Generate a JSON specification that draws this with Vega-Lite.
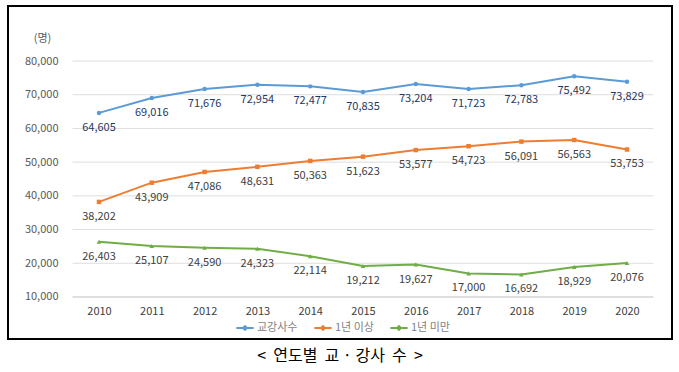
{
  "$schema": "https://vega.github.io/schema/vega-lite/v6.json",
  "width": 664,
  "height": 333,
  "autosize": {"type": "none"},
  "padding": {"left": 8, "top": 6, "right": 7, "bottom": 33},
  "background": "white",
  "config": {
    "font": "Noto Sans CJK KR",
    "view": {"stroke": "#000000", "strokeWidth": 2}
  },
  "title": {
    "text": "<\u00a0\u00a0연도별\u00a0\u00a0교\u00a0·\u00a0강사\u00a0\u00a0수\u00a0\u00a0>",
    "orient": "bottom",
    "anchor": "middle",
    "offset": 9,
    "fontSize": 16,
    "fontWeight": "normal",
    "color": "#000000"
  },
  "datasets": {
    "grid": [
      {"tick": 10000}, {"tick": 20000}, {"tick": 30000}, {"tick": 40000},
      {"tick": 50000}, {"tick": 60000}, {"tick": 70000}, {"tick": 80000}
    ]
  },
  "data": {
    "values": [
      {"year": 2010, "series": "교강사수", "value": 64605},
      {"year": 2011, "series": "교강사수", "value": 69016},
      {"year": 2012, "series": "교강사수", "value": 71676},
      {"year": 2013, "series": "교강사수", "value": 72954},
      {"year": 2014, "series": "교강사수", "value": 72477},
      {"year": 2015, "series": "교강사수", "value": 70835},
      {"year": 2016, "series": "교강사수", "value": 73204},
      {"year": 2017, "series": "교강사수", "value": 71723},
      {"year": 2018, "series": "교강사수", "value": 72783},
      {"year": 2019, "series": "교강사수", "value": 75492},
      {"year": 2020, "series": "교강사수", "value": 73829},
      {"year": 2010, "series": "1년 이상", "value": 38202},
      {"year": 2011, "series": "1년 이상", "value": 43909},
      {"year": 2012, "series": "1년 이상", "value": 47086},
      {"year": 2013, "series": "1년 이상", "value": 48631},
      {"year": 2014, "series": "1년 이상", "value": 50363},
      {"year": 2015, "series": "1년 이상", "value": 51623},
      {"year": 2016, "series": "1년 이상", "value": 53577},
      {"year": 2017, "series": "1년 이상", "value": 54723},
      {"year": 2018, "series": "1년 이상", "value": 56091},
      {"year": 2019, "series": "1년 이상", "value": 56563},
      {"year": 2020, "series": "1년 이상", "value": 53753},
      {"year": 2010, "series": "1년 미만", "value": 26403},
      {"year": 2011, "series": "1년 미만", "value": 25107},
      {"year": 2012, "series": "1년 미만", "value": 24590},
      {"year": 2013, "series": "1년 미만", "value": 24323},
      {"year": 2014, "series": "1년 미만", "value": 22114},
      {"year": 2015, "series": "1년 미만", "value": 19212},
      {"year": 2016, "series": "1년 미만", "value": 19627},
      {"year": 2017, "series": "1년 미만", "value": 17000},
      {"year": 2018, "series": "1년 미만", "value": 16692},
      {"year": 2019, "series": "1년 미만", "value": 18929},
      {"year": 2020, "series": "1년 미만", "value": 20076}
    ]
  },
  "layer": [
    {
      "data": {"name": "grid"},
      "mark": {"type": "rule", "strokeWidth": 1},
      "encoding": {
        "x": {
          "datum": 2009.5,
          "type": "quantitative",
          "scale": {"domain": [2008.277, 2020.852], "nice": false, "zero": false},
          "axis": {
            "title": null,
            "values": [2010, 2011, 2012, 2013, 2014, 2015, 2016, 2017, 2018, 2019, 2020],
            "labelExpr": "format(datum.value, 'd')",
            "grid": false,
            "ticks": false,
            "domain": false,
            "offset": -42,
            "labelPadding": 8,
            "labelFontSize": 11,
            "labelColor": "#404040"
          }
        },
        "x2": {"datum": 2020.5},
        "y": {
          "field": "tick",
          "type": "quantitative",
          "scale": {"domain": [-2458, 96314], "nice": false, "zero": false},
          "axis": {
            "title": "(명)",
            "titleAngle": 0,
            "titleX": -30,
            "titleY": 32,
            "titleAlign": "center",
            "titleBaseline": "middle",
            "titleFontSize": 11,
            "titleFontWeight": "normal",
            "titleColor": "#595959",
            "values": [10000, 20000, 30000, 40000, 50000, 60000, 70000, 80000],
            "labelExpr": "format(datum.value, ',')",
            "grid": false,
            "domain": false,
            "ticks": false,
            "offset": -64,
            "labelPadding": 14,
            "labelFontSize": 11,
            "labelColor": "#595959"
          }
        },
        "color": {
          "condition": {"test": "datum.tick === 10000", "value": "#bfbfbf"},
          "value": "#dedede"
        }
      }
    },
    {
      "encoding": {
        "x": {"field": "year", "type": "quantitative"},
        "y": {"field": "value", "type": "quantitative", "title": "(명)"}
      },
      "layer": [
        {
          "mark": {"type": "line", "strokeWidth": 2},
          "encoding": {
            "color": {
              "field": "series",
              "type": "nominal",
              "scale": {"domain": ["교강사수", "1년 이상", "1년 미만"], "range": ["#5b9bd5", "#ed7d31", "#70ad47"]},
              "legend": {
                "title": null,
                "orient": "none",
                "direction": "horizontal",
                "legendX": 227,
                "legendY": 312,
                "symbolType": "M-1,0H1M-0.22,0L0,-0.22L0.22,0L0,0.22Z",
                "symbolStrokeWidth": 2,
                "symbolSize": 300,
                "labelFontSize": 11,
                "labelColor": "#7f7f7f",
                "labelOffset": 2,
                "columnPadding": 12
              }
            }
          }
        },
        {
          "transform": [{"filter": "datum.series === '교강사수'"}],
          "mark": {"type": "point", "filled": true, "size": 20, "opacity": 1, "shape": "circle", "color": "#5b9bd5"}
        },
        {
          "transform": [{"filter": "datum.series === '1년 이상'"}],
          "mark": {"type": "point", "filled": true, "size": 20, "opacity": 1, "shape": "square", "color": "#ed7d31"}
        },
        {
          "transform": [{"filter": "datum.series === '1년 미만'"}],
          "mark": {"type": "point", "filled": true, "size": 22, "opacity": 1, "shape": "triangle-up", "color": "#70ad47"}
        },
        {
          "mark": {"type": "text", "dy": 15, "fontSize": 11, "baseline": "middle"},
          "encoding": {
            "text": {"field": "value", "type": "quantitative", "format": ","},
            "color": {
              "condition": {"test": "datum.series === '교강사수'", "value": "#1f3864"},
              "value": "#404040"
            }
          }
        }
      ]
    }
  ]
}
